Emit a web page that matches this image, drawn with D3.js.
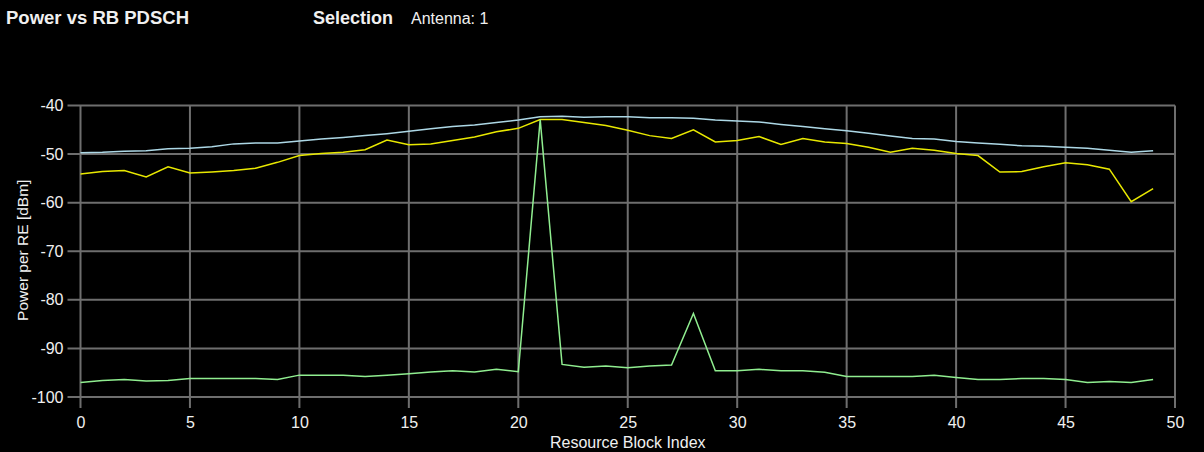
<!DOCTYPE html>
<html><head><meta charset="utf-8">
<script src="https://cdn.jsdelivr.net/npm/d3@7"></script>
<style>html,body{margin:0;padding:0;background:#000;}svg{display:block;}</style>
</head><body>
<svg id="chart" width="1204" height="452"></svg>
<script>
const rbIndex = d3.range(0, 50);
const seriesMax = [-49.7,-49.6,-49.4,-49.3,-48.9,-48.8,-48.5,-47.9,-47.7,-47.7,
  -47.3,-46.9,-46.6,-46.2,-45.8,-45.3,-44.8,-44.3,-44.0,-43.5,
  -43.0,-42.3,-42.2,-42.4,-42.3,-42.3,-42.5,-42.5,-42.6,-43.0,
  -43.2,-43.4,-43.9,-44.3,-44.8,-45.2,-45.7,-46.3,-46.8,-46.9,
  -47.4,-47.7,-48.0,-48.3,-48.4,-48.6,-48.8,-49.2,-49.6,-49.3];
const seriesAvg = [-54.1,-53.6,-53.4,-54.7,-52.6,-53.9,-53.7,-53.4,-52.9,-51.7,
  -50.3,-49.9,-49.6,-49.1,-47.1,-48.1,-47.9,-47.2,-46.5,-45.4,
  -44.7,-42.9,-42.9,-43.5,-44.1,-45.1,-46.2,-46.8,-45.0,-47.5,
  -47.2,-46.4,-48.0,-46.8,-47.5,-47.8,-48.6,-49.6,-48.8,-49.2,
  -49.9,-50.3,-53.7,-53.6,-52.6,-51.8,-52.2,-53.1,-59.8,-57.1];
const seriesMin = [-97.0,-96.6,-96.4,-96.7,-96.6,-96.2,-96.2,-96.2,-96.2,-96.4,
  -95.5,-95.5,-95.5,-95.8,-95.5,-95.2,-94.85,-94.6,-94.85,-94.3,
  -94.8,-42.9,-93.3,-93.9,-93.6,-94.0,-93.6,-93.4,-82.8,-94.6,
  -94.6,-94.3,-94.6,-94.6,-94.9,-95.8,-95.8,-95.8,-95.8,-95.5,
  -96.0,-96.4,-96.4,-96.2,-96.2,-96.4,-97.0,-96.8,-97.0,-96.4];
const xTicks = [0,5,10,15,20,25,30,35,40,45,50];
const yTicks = [-40,-50,-60,-70,-80,-90,-100];
const titleText = "Power vs RB PDSCH";
const selLabel = "Selection";
const selValue = "Antenna: 1";
const xLabel = "Resource Block Index";
const yLabel = "Power per RE [dBm]";

(function () {
const svg = d3.select("#chart");
const W = 1204, H = 452;
const pLeft = 80.5, pRight = 1175, pTop = 105.5, pBottom = 397;
const x = d3.scaleLinear().domain([0, 50]).range([pLeft, pRight]);
const y = d3.scaleLinear().domain([-100, -40]).range([pBottom, pTop]);
const font = "'Liberation Sans', Arial, sans-serif";
const gridColor = "#6e6e6e";
const textColor = "#f0f0f0";

svg.append("rect").attr("width", W).attr("height", H).attr("fill", "#000");

svg.append("text").attr("x", 6).attr("y", 24).attr("fill", textColor)
  .attr("font-family", font).attr("font-weight", "bold").attr("font-size", 18.5)
  .text(titleText);
svg.append("text").attr("x", 313).attr("y", 24).attr("fill", textColor)
  .attr("font-family", font).attr("font-weight", "bold").attr("font-size", 18)
  .text(selLabel);
svg.append("text").attr("x", 411).attr("y", 24).attr("fill", textColor)
  .attr("font-family", font).attr("font-size", 16)
  .text(selValue);

const g = svg.append("g");
g.selectAll(".vg").data(xTicks).join("line")
  .attr("x1", d => x(d)).attr("x2", d => x(d)).attr("y1", pTop).attr("y2", pBottom + 11)
  .attr("stroke", gridColor).attr("stroke-width", 2);
g.selectAll(".hg").data(yTicks).join("line")
  .attr("x1", pLeft - 13).attr("x2", pRight).attr("y1", d => y(d)).attr("y2", d => y(d))
  .attr("stroke", gridColor).attr("stroke-width", 2);

const fmt = d => String(d);
const xAxis = svg.append("g").attr("transform", `translate(0,${pBottom})`)
  .call(d3.axisBottom(x).tickValues(xTicks).tickFormat(fmt).tickSize(0).tickPadding(20));
xAxis.select(".domain").remove();
xAxis.selectAll("text").attr("fill", textColor).attr("font-family", font).attr("font-size", 16);

const yAxis = svg.append("g").attr("transform", `translate(${pLeft},0)`)
  .call(d3.axisLeft(y).tickValues(yTicks).tickFormat(fmt).tickSize(0).tickPadding(17));
yAxis.select(".domain").remove();
yAxis.selectAll("text").attr("fill", textColor).attr("font-family", font).attr("font-size", 16);

svg.append("text").attr("x", (pLeft + pRight) / 2).attr("y", 448).attr("text-anchor", "middle")
  .attr("fill", textColor).attr("font-family", font).attr("font-size", 16).text(xLabel);
svg.append("text").attr("transform", `translate(28,${(pTop + pBottom) / 2 - 1}) rotate(-90)`)
  .attr("text-anchor", "middle").attr("fill", textColor).attr("font-family", font)
  .attr("font-size", 15.5).text(yLabel);

const line = d3.line().x((d, i) => x(rbIndex[i])).y(d => y(d));
const series = [[seriesMax, "#add8e6"], [seriesAvg, "#e8e800"], [seriesMin, "#90ee90"]];
series.forEach(([vals, col]) => {
  svg.append("path").datum(vals).attr("d", line).attr("fill", "none")
    .attr("stroke", col).attr("stroke-width", 1.5);
});
})();
</script>
</body></html>
